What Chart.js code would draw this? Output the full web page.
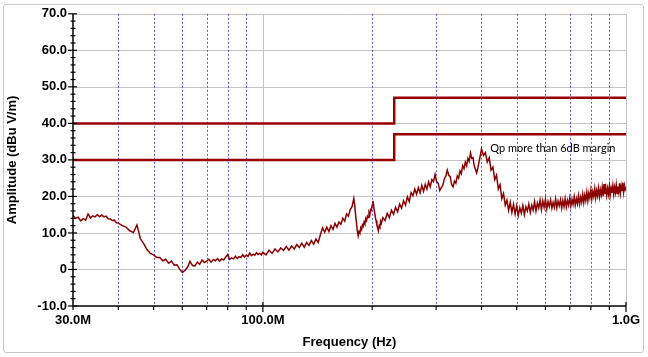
<!DOCTYPE html>
<html>
<head>
<meta charset="utf-8">
<script src="https://cdn.jsdelivr.net/npm/chart.js@4.4.0/dist/chart.umd.min.js"></script>
<style>
html, body { margin: 0; padding: 0; background: #fff; }
#wrap { position: relative; width: 648px; height: 357px; }
#frame { position: absolute; left: 3px; top: 4px; width: 641px; height: 349px; border: 1px solid #c8c8c8; border-radius: 3px; box-sizing: border-box; }
canvas { position: absolute; left: 0; top: 0; }
</style>
</head>
<body>
<div id="wrap"><div id="frame"></div><canvas id="emc" width="648" height="357"></canvas></div>
<script>
// measured trace, frequency in MHz
var freqs = [30,30.5,31,31.5,32,32.5,33,33.5,34,34.5,35,35.5,36,36.5,37,37.5,38,38.5,39,39.5,40,
  41,42,43,44,45,46,47,48,49,50,51,52,53,54,55,56,57,58,59,60,
  61,62,63,64,65,66,67,68,69,70,71,72,73,74,75,76,77,78,79,80,81,82,83,84,85,86,87,88,89,90,91,92,93,94,95,96,97,98,99,100,
  102,104,106,108,110,112,114,116,118,120,122,124,126,128,130,132,134,136,138,140,142,144,146,148,150,152,154,156,158,160,162,164,166,168,170,172,174,176,178,
  179,180,181,182,183,184,185,186,187,188,189,190,191,192,193,194,195,196,197,198,199,200,201,202,203,204,205,206,207,208,209,210,211,212,
  214,217,220,223,226,229,232,235,238,241,244,247,250,253,256,259,262,265,268,271,274,277,280,283,286,289,292,295,298,301,304,307,310,313,316,319,322,325,328,331,334,337,340,343,346,349,352,355,358,361,364,367,370,373,376,379,382,385,388,391,394,397,400,
  405,410,415,420,425,430,435,440,445,450,455,460,465,470,475,480,485,490,495,500,505,510,515,520,525,530,535,540,545,550,555,560,565,570,575,580,585,590,595,600,
  605,610,615,620,625,630,635,640,645,650,655,660,665,670,675,680,685,690,695,700,705,710,715,720,725,730,735,740,745,750,755,760,765,770,775,780,785,790,795,800,
  805,810,815,820,825,830,835,840,845,850,855,860,865,870,875,880,885,890,895,900,905,910,915,920,925,930,935,940,945,950,955,960,965,970,975,980,985,990,995,1000];
var amps = [14.8,14.0,14.3,13.3,13.9,13.5,15.2,14.1,14.7,14.4,15.0,14.5,14.9,14.4,14.6,13.9,13.8,13.4,13.5,12.8,12.7,
  12.0,11.6,10.6,10.1,12.2,8.4,7.0,5.4,4.4,4.0,3.3,3.3,2.4,2.8,1.7,2.3,1.2,1.3,0.1,-0.8,
  -0.3,0.6,2.2,1.1,1.0,2.0,1.4,2.6,1.9,2.3,2.8,2.0,2.7,2.4,3.0,2.3,2.9,2.6,3.4,4.1,2.8,3.2,2.9,3.6,3.0,3.5,3.3,4.0,3.4,3.9,3.6,4.5,3.8,4.2,3.9,4.6,4.1,4.4,4.0,4.7,
  4.0,5.3,4.4,5.6,4.8,5.9,5.2,6.3,5.3,6.4,5.6,6.8,6.0,7.2,6.1,7.4,6.6,7.9,6.9,8.3,7.4,9.5,11.4,10.2,11.6,10.4,12.0,11.0,12.6,11.6,13.0,12.4,14.0,13.2,15.2,14.6,16.4,17.2,19.4,
  17.6,15.0,12.8,10.6,9.2,10.4,10.0,11.4,10.9,12.2,11.8,13.0,12.5,13.9,13.4,14.6,14.2,15.6,15.0,16.4,16.2,17.6,18.8,17.2,15.8,14.4,13.4,12.2,11.4,10.6,12.0,11.6,13.2,12.6,
  14.2,13.4,15.4,14.2,16.2,15.1,17.0,15.8,17.9,16.8,18.8,17.6,19.9,18.6,21.0,20.2,22.0,20.6,22.4,21.0,23.0,21.4,23.3,22.0,24.0,22.6,24.6,24.0,26.0,24.0,23.6,21.6,22.4,23.0,24.8,25.6,27.2,25.8,25.4,23.2,22.6,24.2,23.6,25.6,25.0,27.0,26.2,28.4,27.6,29.4,28.4,30.4,29.6,31.9,30.4,30.6,28.4,27.4,26.4,27.8,29.6,31.2,33.0,
  31.2,32.0,29.4,30.6,27.2,28.0,24.6,25.8,22.0,23.2,19.4,20.8,17.6,19.0,16.2,18.4,15.6,17.8,15.2,17.4,14.8,16.9,15.4,17.5,15.0,17.2,16.0,17.9,15.6,17.6,16.2,18.6,16.0,18.2,16.8,19.0,16.4,18.8,17.0,19.2,
  16.6,18.6,17.2,19.0,16.8,18.4,17.0,19.3,16.9,18.7,17.4,19.1,16.8,18.9,17.2,19.4,17.1,18.9,17.6,19.6,17.4,19.2,17.8,19.9,17.6,19.4,18.0,20.2,17.9,19.8,18.4,20.6,18.3,20.4,18.9,21.2,18.8,20.9,19.6,21.7,
  19.3,21.3,20.0,22.1,19.6,21.6,20.2,22.3,19.9,21.8,20.4,22.5,20.1,23.4,20.6,22.4,20.3,22.2,20.6,22.8,20.4,22.3,21.0,23.0,20.6,22.5,21.1,23.2,20.8,22.7,21.3,23.6,21.0,22.9,21.6,23.8,21.2,23.0,21.9,22.6];

// limit lines
var limitFreq = [30, 230, 230, 1000];
var limitHigh = [40, 40, 47, 47];
var limitLow = [30, 30, 37, 37];

// axes
var xTickVals = [30,40,50,60,70,80,90,100,200,300,400,500,600,700,800,900,1000];
var xLabels = {30: '30.0M', 100: '100.0M', 1000: '1.0G'};
var xMajor = [100, 1000];
var yMin = -10, yMax = 70, yStep = 10, yMinorStep = 2;

var noteText = 'Qp more than 6dB margin';
var noteFreq = 423, noteAmp = 33;

function pts(xs, ys) {
  return xs.map(function(f, i) { return {x: f, y: ys[i]}; });
}

function seg(ctx, x1, y1, x2, y2) {
  ctx.beginPath(); ctx.moveTo(x1, y1); ctx.lineTo(x2, y2); ctx.stroke();
}

var axesPlugin = {
  id: 'axesPlugin',
  beforeDatasetsDraw: function(chart) {
    var ctx = chart.ctx, a = chart.chartArea, x = chart.scales.x, y = chart.scales.y;
    ctx.save();
    ctx.lineWidth = 1;
    ctx.strokeStyle = '#c4c4c4';
    for (var v = yMin + yStep; v <= yMax; v += yStep) {
      var py = Math.round(y.getPixelForValue(v)) + 0.5;
      seg(ctx, a.left, py, a.right, py);
    }
    xTickVals.forEach(function(f) {
      if (f === 30) return;
      var px = Math.round(x.getPixelForValue(f)) + 0.5;
      if (xMajor.indexOf(f) >= 0) {
        ctx.setLineDash([]);
        ctx.strokeStyle = '#c4c4c4';
      } else {
        ctx.setLineDash([2, 2]);
        ctx.strokeStyle = '#5a5aff';
      }
      seg(ctx, px, a.top, px, a.bottom);
    });
    ctx.restore();
  },
  afterDatasetsDraw: function(chart) {
    var ctx = chart.ctx, a = chart.chartArea, x = chart.scales.x, y = chart.scales.y;
    ctx.save();
    ctx.strokeStyle = '#000';
    ctx.lineWidth = 1.5;
    seg(ctx, a.left, a.top, a.left, a.bottom);
    seg(ctx, a.left, a.bottom, a.right, a.bottom);
    ctx.lineWidth = 1.2;
    for (var v = yMin; v <= yMax; v += yMinorStep) {
      var py = y.getPixelForValue(v);
      if (v % yStep === 0) seg(ctx, a.left - 5, py, a.left + 4, py);
      else seg(ctx, a.left - 2.5, py, a.left + 2.5, py);
    }
    xTickVals.forEach(function(f) {
      var px = x.getPixelForValue(f);
      if (xMajor.indexOf(f) >= 0) seg(ctx, px, a.bottom - 4, px, a.bottom + 6);
      else seg(ctx, px, a.bottom, px, a.bottom + 4);
    });
    // note
    ctx.fillStyle = '#000';
    ctx.font = '11px Lato, "Open Sans", sans-serif';
    ctx.textBaseline = 'middle';
    ctx.fillText(noteText, x.getPixelForValue(noteFreq), y.getPixelForValue(noteAmp));
    ctx.restore();
  }
};

Chart.defaults.font.family = "'Liberation Sans', Arial, sans-serif";
Chart.defaults.color = '#000';

new Chart('emc', {
  type: 'line',
  data: {
    datasets: [
      {
        data: pts(limitFreq, limitHigh),
        borderColor: '#990000',
        borderWidth: 2.5,
        pointRadius: 0
      },
      {
        data: pts(limitFreq, limitLow),
        borderColor: '#990000',
        borderWidth: 2.5,
        pointRadius: 0
      },
      {
        data: pts(freqs, amps),
        borderColor: '#8b0000',
        borderWidth: 1.5,
        pointRadius: 0
      }
    ]
  },
  options: {
    responsive: false,
    animation: false,
    devicePixelRatio: 1,
    layout: { padding: { top: 11, right: 22, left: 0, bottom: 0 } },
    plugins: { legend: { display: false }, tooltip: { enabled: false } },
    scales: {
      x: {
        type: 'logarithmic',
        min: 30,
        max: 1000,
        afterBuildTicks: function(scale) {
          scale.ticks = xTickVals.map(function(v) { return {value: v}; });
        },
        afterFit: function(scale) { scale.height = 51; },
        grid: { display: false, drawTicks: false },
        border: { display: false },
        ticks: {
          autoSkip: false,
          maxRotation: 0,
          padding: 7,
          font: { size: 13, weight: 'bold' },
          callback: function(value) { return xLabels[value] || ''; }
        },
        title: {
          display: true,
          text: 'Frequency (Hz)',
          font: { size: 13, weight: 'bold' },
          padding: { top: 0, bottom: 7 }
        }
      },
      y: {
        min: yMin,
        max: yMax,
        afterFit: function(scale) { scale.width = 73; },
        grid: { display: false, drawTicks: false },
        border: { display: false },
        ticks: {
          stepSize: yStep,
          padding: 6,
          font: { size: 13, weight: 'bold' },
          callback: function(value) { return value === 0 ? '0' : value.toFixed(1); }
        },
        title: {
          display: true,
          text: 'Amplitude (dBu V/m)',
          font: { size: 13, weight: 'bold' },
          padding: { top: 5, bottom: 0 }
        }
      }
    }
  },
  plugins: [axesPlugin]
});
</script>
</body>
</html>
